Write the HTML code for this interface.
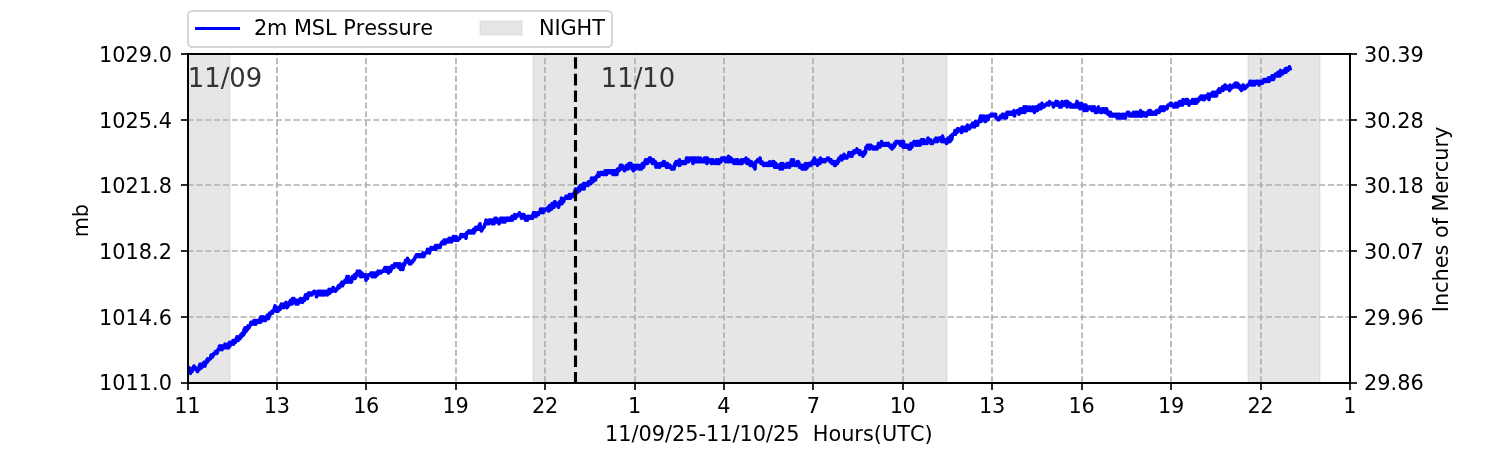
<!DOCTYPE html>
<html><head><meta charset="utf-8"><title>2m MSL Pressure</title>
<style>html,body{margin:0;padding:0;background:#fff;width:1500px;height:450px;overflow:hidden}svg{display:block;will-change:transform;font-kerning:none}</style>
</head><body>
<svg width="1500" height="450" viewBox="0 0 1500 450">
<rect width="1500" height="450" fill="#fff"/>
<clipPath id="c"><rect x="187.5" y="54.0" width="1162.5" height="328.5"/></clipPath>
<g clip-path="url(#c)">
<rect x="183" y="54" width="47" height="329" fill="#808080" fill-opacity="0.2" stroke="#808080" stroke-opacity="0.2" stroke-width="1"/>
<rect x="533" y="54" width="414" height="329" fill="#808080" fill-opacity="0.2" stroke="#808080" stroke-opacity="0.2" stroke-width="1"/>
<rect x="1248" y="54" width="72" height="329" fill="#808080" fill-opacity="0.2" stroke="#808080" stroke-opacity="0.2" stroke-width="1"/>
</g>
<g stroke="#b0b0b0" stroke-width="1.67" stroke-dasharray="6.17,2.67" fill="none">
<path d="M188 382.5V54.0"/>
<path d="M277 382.5V54.0"/>
<path d="M366 382.5V54.0"/>
<path d="M456 382.5V54.0"/>
<path d="M545 382.5V54.0"/>
<path d="M635 382.5V54.0"/>
<path d="M724 382.5V54.0"/>
<path d="M813 382.5V54.0"/>
<path d="M903 382.5V54.0"/>
<path d="M992 382.5V54.0"/>
<path d="M1082 382.5V54.0"/>
<path d="M1171 382.5V54.0"/>
<path d="M1261 382.5V54.0"/>
<path d="M1350 382.5V54.0"/>
<path d="M187.5 383H1350.0"/>
<path d="M187.5 317H1350.0"/>
<path d="M187.5 251H1350.0"/>
<path d="M187.5 185H1350.0"/>
<path d="M187.5 120H1350.0"/>
<path d="M187.5 54H1350.0"/>
</g>
<g font-family="DejaVu Sans, sans-serif" font-size="27.08" fill="#333333">
<text transform="translate(187.75 87) scale(0.955 1)">11/09</text>
<text transform="translate(600.75 87) scale(0.955 1)">11/10</text>
</g>
<path d="M188 369.73 188.5 371.55 189 371.55 189.5 367.9 190 369.73 190.5 373.38 191 369.73 191.5 371.55 192 371.55 192.5 369.73 193 367.9 193.5 367.9 194 366.07 194.5 367.9 195 367.9 195.5 367.9 196 369.73 196.5 369.73 197 369.73 197.5 371.55 198 367.9 198.5 367.9 199 369.73 199.5 366.07 200 364.25 200.5 366.07 201 364.25 201.5 367.9 202 366.07 202.5 366.07 203 366.07 203.5 364.25 204 362.43 204.5 364.25 205 366.07 205.5 362.43 206 362.43 206.5 360.6 207 362.43 207.5 358.77 208 358.77 208.5 360.6 209 358.77 209.5 358.77 210 358.77 210.5 358.77 211 355.12 211.5 356.95 212 355.12 212.5 356.95 213 355.12 213.5 355.12 214 353.3 214.5 353.3 215 353.3 215.5 351.48 216 353.3 216.5 351.48 217 353.3 217.5 351.48 218 349.65 218.5 349.65 219 349.65 219.5 346 220 347.82 220.5 346 221 347.82 221.5 346 222 349.65 222.5 346 223 347.82 223.5 346 224 347.82 224.5 346 225 344.18 225.5 347.82 226 347.82 226.5 347.82 227 346 227.5 344.18 228 344.18 228.5 347.82 229 346 229.5 342.35 230 346 230.5 344.18 231 344.18 231.5 342.35 232 342.35 232.5 342.35 233 340.52 233.5 344.18 234 342.35 234.5 342.35 235 340.52 235.5 342.35 236 338.7 236.5 338.7 237 336.88 237.5 336.88 238 340.52 238.5 338.7 239 336.88 239.5 336.88 240 338.7 240.5 335.05 241 336.88 241.5 336.88 242 333.23 242.5 333.23 243 335.05 243.5 335.05 244 329.57 244.5 333.23 245 327.75 245.5 331.4 246 331.4 246.5 327.75 247 329.57 247.5 329.57 248 325.93 248.5 327.75 249 327.75 249.5 325.93 250 325.93 250.5 324.1 251 322.27 251.5 322.27 252 322.27 252.5 322.27 253 324.1 253.5 322.27 254 320.45 254.5 320.45 255 324.1 255.5 320.45 256 324.1 256.5 320.45 257 320.45 257.5 322.27 258 322.27 258.5 320.45 259 320.45 259.5 322.27 260 318.62 260.5 322.27 261 316.8 261.5 318.62 262 318.62 262.5 320.45 263 316.8 263.5 320.45 264 318.62 264.5 318.62 265 318.62 265.5 320.45 266 316.8 266.5 316.8 267 316.8 267.5 314.98 268 314.98 268.5 318.62 269 316.8 269.5 313.15 270 314.98 270.5 313.15 271 313.15 271.5 313.15 272 311.32 272.5 313.15 273 311.32 273.5 311.32 274 309.5 274.5 307.68 275 305.85 275.5 307.68 276 309.5 276.5 311.32 277 309.5 277.5 307.68 278 311.32 278.5 309.5 279 309.5 279.5 307.68 280 309.5 280.5 305.85 281 305.85 281.5 304.02 282 305.85 282.5 305.85 283 305.85 283.5 307.68 284 304.02 284.5 305.85 285 304.02 285.5 305.85 286 302.2 286.5 304.02 287 307.68 287.5 304.02 288 305.85 288.5 305.85 289 304.02 289.5 302.2 290 304.02 290.5 300.38 291 304.02 291.5 304.02 292 304.02 292.5 298.55 293 300.38 293.5 300.38 294 298.55 294.5 302.2 295 302.2 295.5 300.38 296 304.02 296.5 304.02 297 300.38 297.5 304.02 298 304.02 298.5 300.38 299 302.2 299.5 302.2 300 300.38 300.5 298.55 301 300.38 301.5 300.38 302 302.2 302.5 302.2 303 298.55 303.5 300.38 304 300.38 304.5 300.38 305 296.73 305.5 294.9 306 298.55 306.5 294.9 307 296.73 307.5 298.55 308 294.9 308.5 293.07 309 294.9 309.5 294.9 310 293.07 310.5 294.9 311 293.07 311.5 294.9 312 294.9 312.5 293.07 313 293.07 313.5 293.07 314 291.25 314.5 291.25 315 293.07 315.5 293.07 316 293.07 316.5 296.73 317 294.9 317.5 293.07 318 291.25 318.5 294.9 319 291.25 319.5 291.25 320 291.25 320.5 291.25 321 294.9 321.5 291.25 322 293.07 322.5 294.9 323 293.07 323.5 291.25 324 293.07 324.5 294.9 325 293.07 325.5 293.07 326 291.25 326.5 293.07 327 294.9 327.5 294.9 328 293.07 328.5 291.25 329 289.43 329.5 291.25 330 293.07 330.5 289.43 331 289.43 331.5 289.43 332 291.25 332.5 291.25 333 287.6 333.5 287.6 334 289.43 334.5 289.43 335 289.43 335.5 291.25 336 289.43 336.5 289.43 337 289.43 337.5 287.6 338 287.6 338.5 285.77 339 287.6 339.5 287.6 340 285.77 340.5 283.95 341 283.95 341.5 283.95 342 282.12 342.5 285.77 343 283.95 343.5 283.95 344 282.12 344.5 282.12 345 280.3 345.5 282.12 346 282.12 346.5 278.48 347 276.65 347.5 280.3 348 282.12 348.5 276.65 349 280.3 349.5 280.3 350 282.12 350.5 278.48 351 278.48 351.5 282.12 352 278.48 352.5 276.65 353 278.48 353.5 278.48 354 278.48 354.5 274.82 355 278.48 355.5 274.82 356 276.65 356.5 273 357 273 357.5 271.18 358 273 358.5 273 359 274.82 359.5 273 360 271.18 360.5 276.65 361 276.65 361.5 276.65 362 273 362.5 274.82 363 274.82 363.5 274.82 364 274.82 364.5 276.65 365 274.82 365.5 276.65 366 280.3 366.5 278.48 367 276.65 367.5 278.48 368 274.82 368.5 274.82 369 274.82 369.5 274.82 370 274.82 370.5 274.82 371 273 371.5 274.82 372 276.65 372.5 273 373 273 373.5 273 374 276.65 374.5 276.65 375 273 375.5 276.65 376 273 376.5 274.82 377 273 377.5 274.82 378 271.18 378.5 273 379 273 379.5 271.18 380 271.18 380.5 271.18 381 273 381.5 271.18 382 271.18 382.5 271.18 383 271.18 383.5 271.18 384 269.35 384.5 269.35 385 267.52 385.5 267.52 386 271.18 386.5 267.52 387 271.18 387.5 271.18 388 269.35 388.5 273 389 267.52 389.5 269.35 390 267.52 390.5 271.18 391 269.35 391.5 269.35 392 265.7 392.5 267.52 393 265.7 393.5 265.7 394 267.52 394.5 263.88 395 263.88 395.5 265.7 396 265.7 396.5 263.88 397 265.7 397.5 263.88 398 265.7 398.5 267.52 399 263.88 399.5 267.52 400 263.88 400.5 269.35 401 267.52 401.5 267.52 402 269.35 402.5 269.35 403 269.35 403.5 263.88 404 265.7 404.5 263.88 405 263.88 405.5 260.23 406 262.05 406.5 262.05 407 262.05 407.5 258.4 408 262.05 408.5 260.23 409 260.23 409.5 263.88 410 262.05 410.5 262.05 411 263.88 411.5 262.05 412 262.05 412.5 262.05 413 260.23 413.5 260.23 414 260.23 414.5 258.4 415 258.4 415.5 256.57 416 256.57 416.5 254.75 417 256.57 417.5 254.75 418 254.75 418.5 256.57 419 256.57 419.5 254.75 420 256.57 420.5 254.75 421 256.57 421.5 256.57 422 254.75 422.5 256.57 423 252.93 423.5 254.75 424 256.57 424.5 254.75 425 252.93 425.5 252.93 426 252.93 426.5 252.93 427 251.1 427.5 249.28 428 251.1 428.5 251.1 429 251.1 429.5 252.93 430 249.28 430.5 249.28 431 247.45 431.5 247.45 432 249.28 432.5 249.28 433 247.45 433.5 247.45 434 249.28 434.5 247.45 435 249.28 435.5 245.62 436 249.28 436.5 245.62 437 245.62 437.5 245.62 438 245.62 438.5 247.45 439 247.45 439.5 245.62 440 247.45 440.5 245.62 441 243.8 441.5 243.8 442 241.97 442.5 241.97 443 243.8 443.5 243.8 444 240.15 444.5 243.8 445 243.8 445.5 241.97 446 240.15 446.5 241.97 447 240.15 447.5 241.97 448 240.15 448.5 241.97 449 238.33 449.5 240.15 450 240.15 450.5 240.15 451 238.33 451.5 241.97 452 238.33 452.5 238.33 453 238.33 453.5 236.5 454 238.33 454.5 240.15 455 240.15 455.5 238.33 456 236.5 456.5 238.33 457 240.15 457.5 238.33 458 240.15 458.5 238.33 459 238.33 459.5 238.33 460 238.33 460.5 236.5 461 234.68 461.5 236.5 462 236.5 462.5 234.68 463 236.5 463.5 236.5 464 234.68 464.5 234.68 465 234.68 465.5 234.68 466 238.33 466.5 232.85 467 232.85 467.5 232.85 468 232.85 468.5 231.03 469 232.85 469.5 231.03 470 231.03 470.5 232.85 471 231.03 471.5 232.85 472 231.03 472.5 231.03 473 232.85 473.5 229.2 474 232.85 474.5 231.03 475 231.03 475.5 227.38 476 229.2 476.5 229.2 477 229.2 477.5 227.38 478 229.2 478.5 229.2 479 225.55 479.5 225.55 480 223.72 480.5 229.2 481 229.2 481.5 231.03 482 229.2 482.5 229.2 483 227.38 483.5 227.38 484 227.38 484.5 225.55 485 223.72 485.5 223.72 486 220.08 486.5 223.72 487 223.72 487.5 221.9 488 223.72 488.5 223.72 489 220.08 489.5 220.08 490 220.08 490.5 220.08 491 220.08 491.5 221.9 492 223.72 492.5 220.08 493 223.72 493.5 223.72 494 223.72 494.5 220.08 495 218.25 495.5 221.9 496 218.25 496.5 218.25 497 221.9 497.5 221.9 498 220.08 498.5 221.9 499 223.72 499.5 220.08 500 221.9 500.5 218.25 501 221.9 501.5 218.25 502 220.08 502.5 218.25 503 220.08 503.5 221.9 504 218.25 504.5 218.25 505 221.9 505.5 220.08 506 218.25 506.5 220.08 507 218.25 507.5 220.08 508 218.25 508.5 220.08 509 218.25 509.5 220.08 510 218.25 510.5 220.08 511 220.08 511.5 218.25 512 216.43 512.5 220.08 513 218.25 513.5 216.43 514 218.25 514.5 214.6 515 216.43 515.5 218.25 516 216.43 516.5 216.43 517 216.43 517.5 214.6 518 214.6 518.5 214.6 519 214.6 519.5 212.78 520 214.6 520.5 214.6 521 216.43 521.5 218.25 522 214.6 522.5 216.43 523 216.43 523.5 214.6 524 214.6 524.5 218.25 525 218.25 525.5 220.08 526 216.43 526.5 218.25 527 220.08 527.5 220.08 528 216.43 528.5 218.25 529 216.43 529.5 218.25 530 216.43 530.5 216.43 531 218.25 531.5 216.43 532 216.43 532.5 218.25 533 214.6 533.5 212.78 534 214.6 534.5 212.78 535 212.78 535.5 214.6 536 216.43 536.5 214.6 537 214.6 537.5 212.78 538 212.78 538.5 214.6 539 212.78 539.5 212.78 540 212.78 540.5 209.12 541 210.95 541.5 210.95 542 209.12 542.5 210.95 543 212.78 543.5 209.12 544 210.95 544.5 210.95 545 209.12 545.5 209.12 546 209.12 546.5 209.12 547 209.12 547.5 209.12 548 207.3 548.5 210.95 549 210.95 549.5 205.47 550 207.3 550.5 205.47 551 209.12 551.5 209.12 552 203.65 552.5 205.47 553 203.65 553.5 205.47 554 207.3 554.5 201.83 555 201.83 555.5 203.65 556 203.65 556.5 205.47 557 205.47 557.5 203.65 558 203.65 558.5 207.3 559 205.47 559.5 201.83 560 203.65 560.5 201.83 561 203.65 561.5 198.18 562 203.65 562.5 200 563 200 563.5 201.83 564 200 564.5 198.18 565 198.18 565.5 198.18 566 196.35 566.5 196.35 567 196.35 567.5 198.18 568 196.35 568.5 198.18 569 196.35 569.5 194.53 570 196.35 570.5 198.18 571 194.53 571.5 194.53 572 196.35 572.5 194.53 573 196.35 573.5 196.35 574 192.7 574.5 194.53 575 190.88 575.5 189.05 576 190.88 576.5 190.88 577 192.7 577.5 189.05 578 190.88 578.5 189.05 579 187.22 579.5 190.88 580 189.05 580.5 185.4 581 189.05 581.5 185.4 582 185.4 582.5 185.4 583 189.05 583.5 183.58 584 189.05 584.5 187.22 585 183.58 585.5 185.4 586 183.58 586.5 183.58 587 183.58 587.5 183.58 588 185.4 588.5 181.75 589 183.58 589.5 181.75 590 183.58 590.5 183.58 591 183.58 591.5 178.1 592 179.93 592.5 181.75 593 181.75 593.5 178.1 594 179.93 594.5 178.1 595 178.1 595.5 179.93 596 178.1 596.5 176.28 597 176.28 597.5 176.28 598 174.45 598.5 172.62 599 176.28 599.5 174.45 600 174.45 600.5 174.45 601 172.62 601.5 172.62 602 172.62 602.5 172.62 603 174.45 603.5 172.62 604 172.62 604.5 174.45 605 170.8 605.5 170.8 606 174.45 606.5 174.45 607 170.8 607.5 172.62 608 170.8 608.5 172.62 609 172.62 609.5 170.8 610 172.62 610.5 172.62 611 172.62 611.5 170.8 612 172.62 612.5 170.8 613 174.45 613.5 170.8 614 170.8 614.5 170.8 615 174.45 615.5 170.8 616 172.62 616.5 174.45 617 174.45 617.5 168.97 618 170.8 618.5 170.8 619 170.8 619.5 168.97 620 167.15 620.5 165.33 621 165.33 621.5 168.97 622 165.33 622.5 167.15 623 167.15 623.5 167.15 624 167.15 624.5 170.8 625 168.97 625.5 167.15 626 168.97 626.5 165.33 627 165.33 627.5 168.97 628 168.97 628.5 167.15 629 163.5 629.5 165.33 630 163.5 630.5 165.33 631 163.5 631.5 165.33 632 168.97 632.5 165.33 633 167.15 633.5 170.8 634 167.15 634.5 167.15 635 165.33 635.5 168.97 636 167.15 636.5 167.15 637 167.15 637.5 165.33 638 165.33 638.5 167.15 639 168.97 639.5 168.97 640 168.97 640.5 168.97 641 165.33 641.5 168.97 642 165.33 642.5 163.5 643 167.15 643.5 167.15 644 165.33 644.5 163.5 645 161.68 645.5 159.85 646 163.5 646.5 163.5 647 159.85 647.5 163.5 648 159.85 648.5 159.85 649 159.85 649.5 158.03 650 159.85 650.5 158.03 651 161.68 651.5 159.85 652 161.68 652.5 163.5 653 159.85 653.5 159.85 654 163.5 654.5 161.68 655 161.68 655.5 161.68 656 167.15 656.5 165.33 657 163.5 657.5 165.33 658 165.33 658.5 165.33 659 167.15 659.5 167.15 660 163.5 660.5 163.5 661 163.5 661.5 165.33 662 163.5 662.5 165.33 663 163.5 663.5 161.68 664 165.33 664.5 161.68 665 165.33 665.5 163.5 666 165.33 666.5 167.15 667 165.33 667.5 163.5 668 165.33 668.5 167.15 669 165.33 669.5 165.33 670 165.33 670.5 167.15 671 167.15 671.5 168.97 672 167.15 672.5 168.97 673 167.15 673.5 168.97 674 168.97 674.5 165.33 675 163.5 675.5 165.33 676 161.68 676.5 163.5 677 161.68 677.5 163.5 678 161.68 678.5 161.68 679 165.33 679.5 159.85 680 165.33 680.5 163.5 681 163.5 681.5 163.5 682 161.68 682.5 161.68 683 163.5 683.5 161.68 684 163.5 684.5 163.5 685 163.5 685.5 163.5 686 161.68 686.5 158.03 687 161.68 687.5 158.03 688 161.68 688.5 161.68 689 159.85 689.5 159.85 690 158.03 690.5 159.85 691 159.85 691.5 158.03 692 158.03 692.5 161.68 693 163.5 693.5 159.85 694 158.03 694.5 159.85 695 158.03 695.5 159.85 696 161.68 696.5 159.85 697 159.85 697.5 158.03 698 161.68 698.5 158.03 699 159.85 699.5 159.85 700 161.68 700.5 158.03 701 161.68 701.5 159.85 702 161.68 702.5 159.85 703 159.85 703.5 161.68 704 159.85 704.5 158.03 705 158.03 705.5 161.68 706 158.03 706.5 159.85 707 163.5 707.5 158.03 708 159.85 708.5 159.85 709 159.85 709.5 161.68 710 161.68 710.5 161.68 711 159.85 711.5 163.5 712 163.5 712.5 161.68 713 159.85 713.5 161.68 714 161.68 714.5 161.68 715 163.5 715.5 161.68 716 161.68 716.5 159.85 717 161.68 717.5 163.5 718 163.5 718.5 159.85 719 163.5 719.5 161.68 720 159.85 720.5 159.85 721 161.68 721.5 158.03 722 159.85 722.5 159.85 723 158.03 723.5 159.85 724 158.03 724.5 158.03 725 158.03 725.5 161.68 726 158.03 726.5 159.85 727 159.85 727.5 161.68 728 161.68 728.5 156.2 729 161.68 729.5 159.85 730 158.03 730.5 159.85 731 158.03 731.5 161.68 732 159.85 732.5 159.85 733 159.85 733.5 161.68 734 163.5 734.5 163.5 735 161.68 735.5 161.68 736 159.85 736.5 161.68 737 163.5 737.5 159.85 738 163.5 738.5 163.5 739 161.68 739.5 163.5 740 161.68 740.5 163.5 741 159.85 741.5 159.85 742 163.5 742.5 161.68 743 159.85 743.5 161.68 744 159.85 744.5 161.68 745 161.68 745.5 161.68 746 158.03 746.5 161.68 747 163.5 747.5 159.85 748 163.5 748.5 159.85 749 163.5 749.5 163.5 750 165.33 750.5 165.33 751 165.33 751.5 161.68 752 165.33 752.5 163.5 753 165.33 753.5 165.33 754 167.15 754.5 167.15 755 168.97 755.5 161.68 756 161.68 756.5 161.68 757 161.68 757.5 159.85 758 159.85 758.5 161.68 759 161.68 759.5 159.85 760 158.03 760.5 161.68 761 163.5 761.5 163.5 762 161.68 762.5 163.5 763 163.5 763.5 165.33 764 163.5 764.5 165.33 765 163.5 765.5 163.5 766 163.5 766.5 165.33 767 163.5 767.5 163.5 768 165.33 768.5 163.5 769 165.33 769.5 161.68 770 161.68 770.5 165.33 771 163.5 771.5 165.33 772 163.5 772.5 163.5 773 161.68 773.5 165.33 774 161.68 774.5 167.15 775 167.15 775.5 163.5 776 163.5 776.5 167.15 777 165.33 777.5 165.33 778 167.15 778.5 165.33 779 165.33 779.5 167.15 780 168.97 780.5 167.15 781 163.5 781.5 165.33 782 165.33 782.5 168.97 783 163.5 783.5 165.33 784 167.15 784.5 165.33 785 165.33 785.5 165.33 786 165.33 786.5 167.15 787 163.5 787.5 163.5 788 163.5 788.5 165.33 789 163.5 789.5 167.15 790 165.33 790.5 165.33 791 161.68 791.5 159.85 792 161.68 792.5 165.33 793 163.5 793.5 159.85 794 163.5 794.5 163.5 795 165.33 795.5 163.5 796 165.33 796.5 165.33 797 163.5 797.5 161.68 798 165.33 798.5 161.68 799 163.5 799.5 167.15 800 165.33 800.5 165.33 801 167.15 801.5 165.33 802 168.97 802.5 168.97 803 165.33 803.5 165.33 804 165.33 804.5 168.97 805 165.33 805.5 163.5 806 168.97 806.5 167.15 807 167.15 807.5 167.15 808 163.5 808.5 163.5 809 165.33 809.5 163.5 810 165.33 810.5 165.33 811 165.33 811.5 163.5 812 161.68 812.5 161.68 813 163.5 813.5 159.85 814 161.68 814.5 158.03 815 163.5 815.5 159.85 816 161.68 816.5 163.5 817 163.5 817.5 165.33 818 163.5 818.5 161.68 819 159.85 819.5 163.5 820 163.5 820.5 158.03 821 161.68 821.5 159.85 822 159.85 822.5 159.85 823 159.85 823.5 161.68 824 161.68 824.5 159.85 825 161.68 825.5 159.85 826 159.85 826.5 159.85 827 159.85 827.5 158.03 828 158.03 828.5 158.03 829 159.85 829.5 159.85 830 161.68 830.5 161.68 831 159.85 831.5 161.68 832 163.5 832.5 161.68 833 163.5 833.5 161.68 834 163.5 834.5 165.33 835 161.68 835.5 165.33 836 163.5 836.5 163.5 837 161.68 837.5 163.5 838 159.85 838.5 161.68 839 158.03 839.5 159.85 840 159.85 840.5 158.03 841 156.2 841.5 159.85 842 159.85 842.5 158.03 843 156.2 843.5 158.03 844 154.38 844.5 158.03 845 156.2 845.5 158.03 846 156.2 846.5 156.2 847 158.03 847.5 156.2 848 156.2 848.5 154.38 849 152.55 849.5 154.38 850 154.38 850.5 156.2 851 156.2 851.5 152.55 852 156.2 852.5 152.55 853 154.38 853.5 152.55 854 150.72 854.5 150.72 855 150.72 855.5 152.55 856 150.72 856.5 150.72 857 148.9 857.5 150.72 858 150.72 858.5 152.55 859 152.55 859.5 154.38 860 150.72 860.5 154.38 861 152.55 861.5 154.38 862 152.55 862.5 154.38 863 156.2 863.5 154.38 864 152.55 864.5 154.38 865 150.72 865.5 152.55 866 147.08 866.5 147.08 867 147.08 867.5 145.25 868 145.25 868.5 145.25 869 147.08 869.5 148.9 870 145.25 870.5 147.08 871 145.25 871.5 147.08 872 147.08 872.5 147.08 873 148.9 873.5 148.9 874 147.08 874.5 147.08 875 148.9 875.5 148.9 876 147.08 876.5 148.9 877 148.9 877.5 147.08 878 147.08 878.5 143.43 879 145.25 879.5 145.25 880 147.08 880.5 143.43 881 143.43 881.5 141.6 882 143.43 882.5 143.43 883 145.25 883.5 143.43 884 145.25 884.5 145.25 885 143.43 885.5 143.43 886 143.43 886.5 145.25 887 143.43 887.5 143.43 888 145.25 888.5 143.43 889 145.25 889.5 145.25 890 147.08 890.5 147.08 891 147.08 891.5 145.25 892 148.9 892.5 147.08 893 147.08 893.5 147.08 894 147.08 894.5 143.43 895 145.25 895.5 143.43 896 141.6 896.5 141.6 897 141.6 897.5 141.6 898 141.6 898.5 141.6 899 143.43 899.5 143.43 900 143.43 900.5 145.25 901 141.6 901.5 143.43 902 141.6 902.5 143.43 903 147.08 903.5 141.6 904 147.08 904.5 147.08 905 145.25 905.5 147.08 906 145.25 906.5 145.25 907 147.08 907.5 145.25 908 145.25 908.5 145.25 909 148.9 909.5 145.25 910 145.25 910.5 148.9 911 143.43 911.5 147.08 912 147.08 912.5 145.25 913 143.43 913.5 143.43 914 141.6 914.5 141.6 915 143.43 915.5 143.43 916 145.25 916.5 141.6 917 145.25 917.5 143.43 918 141.6 918.5 143.43 919 141.6 919.5 141.6 920 145.25 920.5 141.6 921 141.6 921.5 139.78 922 143.43 922.5 141.6 923 139.78 923.5 143.43 924 139.78 924.5 143.43 925 141.6 925.5 141.6 926 141.6 926.5 141.6 927 143.43 927.5 141.6 928 137.95 928.5 141.6 929 139.78 929.5 139.78 930 139.78 930.5 139.78 931 143.43 931.5 143.43 932 143.43 932.5 143.43 933 141.6 933.5 141.6 934 141.6 934.5 139.78 935 139.78 935.5 141.6 936 137.95 936.5 139.78 937 139.78 937.5 141.6 938 139.78 938.5 139.78 939 137.95 939.5 137.95 940 137.95 940.5 137.95 941 139.78 941.5 141.6 942 139.78 942.5 136.12 943 137.95 943.5 141.6 944 141.6 944.5 141.6 945 139.78 945.5 139.78 946 141.6 946.5 143.43 947 139.78 947.5 139.78 948 137.95 948.5 137.95 949 141.6 949.5 139.78 950 141.6 950.5 136.12 951 137.95 951.5 139.78 952 137.95 952.5 134.3 953 134.3 953.5 134.3 954 134.3 954.5 132.47 955 130.65 955.5 134.3 956 132.47 956.5 132.47 957 132.47 957.5 128.83 958 130.65 958.5 128.83 959 130.65 959.5 130.65 960 130.65 960.5 130.65 961 130.65 961.5 132.47 962 127 962.5 127 963 130.65 963.5 130.65 964 128.83 964.5 128.83 965 130.65 965.5 127 966 130.65 966.5 130.65 967 127 967.5 125.18 968 128.83 968.5 127 969 127 969.5 128.83 970 127 970.5 127 971 125.18 971.5 127 972 125.18 972.5 123.35 973 125.18 973.5 123.35 974 125.18 974.5 127 975 123.35 975.5 121.53 976 123.35 976.5 123.35 977 125.18 977.5 125.18 978 123.35 978.5 121.53 979 121.53 979.5 119.7 980 119.7 980.5 116.05 981 121.53 981.5 117.88 982 116.05 982.5 117.88 983 117.88 983.5 119.7 984 116.05 984.5 117.88 985 121.53 985.5 121.53 986 119.7 986.5 119.7 987 116.05 987.5 119.7 988 119.7 988.5 117.88 989 116.05 989.5 116.05 990 116.05 990.5 116.05 991 114.23 991.5 116.05 992 116.05 992.5 114.23 993 114.23 993.5 114.23 994 114.23 994.5 116.05 995 116.05 995.5 114.23 996 117.88 996.5 117.88 997 117.88 997.5 117.88 998 119.7 998.5 119.7 999 119.7 999.5 117.88 1000 117.88 1000.5 116.05 1001 117.88 1001.5 116.05 1002 116.05 1002.5 114.23 1003 116.05 1003.5 114.23 1004 117.88 1004.5 117.88 1005 117.88 1005.5 114.23 1006 116.05 1006.5 117.88 1007 112.4 1007.5 114.23 1008 112.4 1008.5 114.23 1009 112.4 1009.5 114.23 1010 112.4 1010.5 114.23 1011 112.4 1011.5 114.23 1012 112.4 1012.5 114.23 1013 114.23 1013.5 114.23 1014 110.57 1014.5 116.05 1015 112.4 1015.5 112.4 1016 112.4 1016.5 112.4 1017 112.4 1017.5 110.57 1018 112.4 1018.5 112.4 1019 114.23 1019.5 112.4 1020 108.75 1020.5 110.57 1021 108.75 1021.5 108.75 1022 112.4 1022.5 108.75 1023 110.57 1023.5 108.75 1024 106.93 1024.5 112.4 1025 112.4 1025.5 106.93 1026 108.75 1026.5 108.75 1027 106.93 1027.5 108.75 1028 110.57 1028.5 110.57 1029 108.75 1029.5 106.93 1030 106.93 1030.5 108.75 1031 110.57 1031.5 108.75 1032 108.75 1032.5 110.57 1033 106.93 1033.5 108.75 1034 108.75 1034.5 112.4 1035 106.93 1035.5 106.93 1036 108.75 1036.5 108.75 1037 106.93 1037.5 110.57 1038 106.93 1038.5 108.75 1039 105.1 1039.5 108.75 1040 105.1 1040.5 108.75 1041 108.75 1041.5 105.1 1042 103.28 1042.5 106.93 1043 105.1 1043.5 105.1 1044 106.93 1044.5 105.1 1045 105.1 1045.5 105.1 1046 105.1 1046.5 105.1 1047 103.28 1047.5 103.28 1048 103.28 1048.5 103.28 1049 105.1 1049.5 101.45 1050 103.28 1050.5 103.28 1051 103.28 1051.5 103.28 1052 103.28 1052.5 103.28 1053 105.1 1053.5 106.93 1054 105.1 1054.5 103.28 1055 103.28 1055.5 103.28 1056 101.45 1056.5 105.1 1057 101.45 1057.5 101.45 1058 105.1 1058.5 105.1 1059 103.28 1059.5 106.93 1060 103.28 1060.5 105.1 1061 103.28 1061.5 106.93 1062 101.45 1062.5 103.28 1063 105.1 1063.5 105.1 1064 105.1 1064.5 105.1 1065 101.45 1065.5 101.45 1066 103.28 1066.5 101.45 1067 106.93 1067.5 101.45 1068 103.28 1068.5 103.28 1069 103.28 1069.5 105.1 1070 103.28 1070.5 106.93 1071 106.93 1071.5 105.1 1072 106.93 1072.5 106.93 1073 105.1 1073.5 106.93 1074 106.93 1074.5 105.1 1075 105.1 1075.5 106.93 1076 106.93 1076.5 103.28 1077 101.45 1077.5 106.93 1078 105.1 1078.5 103.28 1079 105.1 1079.5 105.1 1080 108.75 1080.5 105.1 1081 105.1 1081.5 103.28 1082 105.1 1082.5 108.75 1083 105.1 1083.5 106.93 1084 110.57 1084.5 105.1 1085 106.93 1085.5 108.75 1086 105.1 1086.5 110.57 1087 110.57 1087.5 106.93 1088 108.75 1088.5 108.75 1089 108.75 1089.5 106.93 1090 108.75 1090.5 106.93 1091 106.93 1091.5 106.93 1092 110.57 1092.5 110.57 1093 106.93 1093.5 108.75 1094 108.75 1094.5 106.93 1095 108.75 1095.5 112.4 1096 108.75 1096.5 110.57 1097 112.4 1097.5 108.75 1098 110.57 1098.5 106.93 1099 110.57 1099.5 110.57 1100 110.57 1100.5 112.4 1101 110.57 1101.5 112.4 1102 108.75 1102.5 110.57 1103 108.75 1103.5 108.75 1104 110.57 1104.5 112.4 1105 112.4 1105.5 108.75 1106 112.4 1106.5 108.75 1107 110.57 1107.5 112.4 1108 114.23 1108.5 114.23 1109 112.4 1109.5 112.4 1110 116.05 1110.5 112.4 1111 116.05 1111.5 116.05 1112 114.23 1112.5 116.05 1113 114.23 1113.5 116.05 1114 116.05 1114.5 114.23 1115 116.05 1115.5 116.05 1116 116.05 1116.5 114.23 1117 117.88 1117.5 117.88 1118 114.23 1118.5 117.88 1119 116.05 1119.5 114.23 1120 117.88 1120.5 116.05 1121 117.88 1121.5 117.88 1122 116.05 1122.5 114.23 1123 117.88 1123.5 117.88 1124 117.88 1124.5 114.23 1125 117.88 1125.5 117.88 1126 114.23 1126.5 114.23 1127 114.23 1127.5 112.4 1128 114.23 1128.5 114.23 1129 112.4 1129.5 116.05 1130 114.23 1130.5 114.23 1131 114.23 1131.5 114.23 1132 116.05 1132.5 114.23 1133 114.23 1133.5 112.4 1134 114.23 1134.5 116.05 1135 112.4 1135.5 114.23 1136 116.05 1136.5 112.4 1137 116.05 1137.5 114.23 1138 112.4 1138.5 116.05 1139 116.05 1139.5 114.23 1140 116.05 1140.5 110.57 1141 114.23 1141.5 114.23 1142 116.05 1142.5 114.23 1143 114.23 1143.5 112.4 1144 114.23 1144.5 114.23 1145 116.05 1145.5 116.05 1146 114.23 1146.5 116.05 1147 112.4 1147.5 114.23 1148 112.4 1148.5 114.23 1149 110.57 1149.5 112.4 1150 114.23 1150.5 110.57 1151 112.4 1151.5 112.4 1152 114.23 1152.5 112.4 1153 114.23 1153.5 112.4 1154 112.4 1154.5 112.4 1155 112.4 1155.5 114.23 1156 114.23 1156.5 110.57 1157 112.4 1157.5 112.4 1158 110.57 1158.5 110.57 1159 112.4 1159.5 108.75 1160 110.57 1160.5 106.93 1161 106.93 1161.5 110.57 1162 106.93 1162.5 108.75 1163 108.75 1163.5 106.93 1164 110.57 1164.5 108.75 1165 106.93 1165.5 106.93 1166 108.75 1166.5 108.75 1167 108.75 1167.5 106.93 1168 105.1 1168.5 105.1 1169 105.1 1169.5 105.1 1170 105.1 1170.5 103.28 1171 105.1 1171.5 103.28 1172 105.1 1172.5 105.1 1173 105.1 1173.5 106.93 1174 106.93 1174.5 105.1 1175 106.93 1175.5 103.28 1176 105.1 1176.5 103.28 1177 103.28 1177.5 106.93 1178 103.28 1178.5 103.28 1179 105.1 1179.5 101.45 1180 105.1 1180.5 101.45 1181 101.45 1181.5 101.45 1182 101.45 1182.5 105.1 1183 99.62 1183.5 101.45 1184 101.45 1184.5 103.28 1185 103.28 1185.5 101.45 1186 99.62 1186.5 103.28 1187 99.62 1187.5 99.62 1188 101.45 1188.5 101.45 1189 105.1 1189.5 103.28 1190 101.45 1190.5 101.45 1191 103.28 1191.5 101.45 1192 101.45 1192.5 99.62 1193 99.62 1193.5 103.28 1194 103.28 1194.5 103.28 1195 99.62 1195.5 103.28 1196 99.62 1196.5 103.28 1197 99.62 1197.5 99.62 1198 101.45 1198.5 99.62 1199 99.62 1199.5 97.8 1200 99.62 1200.5 97.8 1201 95.98 1201.5 95.98 1202 97.8 1202.5 97.8 1203 99.62 1203.5 95.98 1204 95.98 1204.5 99.62 1205 95.98 1205.5 95.98 1206 95.98 1206.5 95.98 1207 95.98 1207.5 97.8 1208 94.15 1208.5 97.8 1209 99.62 1209.5 95.98 1210 95.98 1210.5 94.15 1211 94.15 1211.5 94.15 1212 95.98 1212.5 92.32 1213 95.98 1213.5 95.98 1214 92.32 1214.5 92.32 1215 95.98 1215.5 95.98 1216 92.32 1216.5 95.98 1217 92.32 1217.5 92.32 1218 90.5 1218.5 92.32 1219 88.68 1219.5 88.68 1220 92.32 1220.5 90.5 1221 90.5 1221.5 90.5 1222 90.5 1222.5 86.85 1223 90.5 1223.5 86.85 1224 86.85 1224.5 86.85 1225 85.03 1225.5 85.03 1226 88.68 1226.5 88.68 1227 86.85 1227.5 86.85 1228 86.85 1228.5 88.68 1229 88.68 1229.5 90.5 1230 85.03 1230.5 88.68 1231 88.68 1231.5 86.85 1232 86.85 1232.5 86.85 1233 86.85 1233.5 85.03 1234 86.85 1234.5 86.85 1235 83.2 1235.5 85.03 1236 83.2 1236.5 86.85 1237 86.85 1237.5 83.2 1238 86.85 1238.5 86.85 1239 85.03 1239.5 86.85 1240 88.68 1240.5 86.85 1241 88.68 1241.5 90.5 1242 88.68 1242.5 86.85 1243 85.03 1243.5 85.03 1244 88.68 1244.5 86.85 1245 88.68 1245.5 86.85 1246 86.85 1246.5 86.85 1247 86.85 1247.5 85.03 1248 85.03 1248.5 85.03 1249 85.03 1249.5 83.2 1250 81.38 1250.5 81.38 1251 81.38 1251.5 85.03 1252 85.03 1252.5 85.03 1253 83.2 1253.5 81.38 1254 83.2 1254.5 85.03 1255 83.2 1255.5 83.2 1256 81.38 1256.5 81.38 1257 83.2 1257.5 83.2 1258 81.38 1258.5 81.38 1259 85.03 1259.5 83.2 1260 83.2 1260.5 81.38 1261 83.2 1261.5 81.38 1262 81.38 1262.5 83.2 1263 81.38 1263.5 81.38 1264 79.55 1264.5 81.38 1265 79.55 1265.5 81.38 1266 81.38 1266.5 79.55 1267 81.38 1267.5 79.55 1268 79.55 1268.5 77.73 1269 81.38 1269.5 79.55 1270 77.73 1270.5 77.73 1271 77.73 1271.5 79.55 1272 75.9 1272.5 79.55 1273 75.9 1273.5 79.55 1274 77.73 1274.5 75.9 1275 75.9 1275.5 74.07 1276 74.07 1276.5 75.9 1277 75.9 1277.5 75.9 1278 72.25 1278.5 75.9 1279 72.25 1279.5 75.9 1280 75.9 1280.5 70.43 1281 74.07 1281.5 74.07 1282 74.07 1282.5 74.07 1283 72.25 1283.5 72.25 1284 70.43 1284.5 72.25 1285 72.25 1285.5 68.6 1286 72.25 1286.5 68.6 1287 68.6 1287.5 68.6 1288 70.43 1288.5 68.6 1289 68.6 1289.5 66.78 1290 68.6 1290.5 70.43" fill="none" stroke="#0000ff" stroke-width="3.6" stroke-linejoin="round" clip-path="url(#c)"/>
<path d="M575.5 382.5V54.0" stroke="#000" stroke-width="3.12" stroke-dasharray="11.56,5" stroke-dashoffset="1" fill="none" clip-path="url(#c)"/>
<g stroke="#000" stroke-width="2" fill="none" stroke-linecap="square">
<path d="M188 383V54"/><path d="M1350 383V54"/><path d="M188 383H1350"/><path d="M188 54H1350"/>
</g>
<g stroke="#000" stroke-width="1.67" fill="none">
<path d="M188 383v7"/>
<path d="M277 383v7"/>
<path d="M366 383v7"/>
<path d="M456 383v7"/>
<path d="M545 383v7"/>
<path d="M635 383v7"/>
<path d="M724 383v7"/>
<path d="M813 383v7"/>
<path d="M903 383v7"/>
<path d="M992 383v7"/>
<path d="M1082 383v7"/>
<path d="M1171 383v7"/>
<path d="M1261 383v7"/>
<path d="M1350 383v7"/>
<path d="M188 383h-7"/><path d="M1350 383h7"/>
<path d="M188 317h-7"/><path d="M1350 317h7"/>
<path d="M188 251h-7"/><path d="M1350 251h7"/>
<path d="M188 185h-7"/><path d="M1350 185h7"/>
<path d="M188 120h-7"/><path d="M1350 120h7"/>
<path d="M188 54h-7"/><path d="M1350 54h7"/>
</g>
<g font-family="DejaVu Sans, sans-serif" font-size="20.83" fill="#000">
<text x="187.25" y="412.66" text-anchor="middle" letter-spacing="-0.3">11</text>
<text x="276.67" y="412.66" text-anchor="middle" letter-spacing="-0.3">13</text>
<text x="366.1" y="412.66" text-anchor="middle" letter-spacing="-0.3">16</text>
<text x="455.52" y="412.66" text-anchor="middle" letter-spacing="-0.3">19</text>
<text x="544.94" y="412.66" text-anchor="middle" letter-spacing="-0.3">22</text>
<text x="634.37" y="412.66" text-anchor="middle" letter-spacing="-0.3">1</text>
<text x="723.79" y="412.66" text-anchor="middle" letter-spacing="-0.3">4</text>
<text x="813.21" y="412.66" text-anchor="middle" letter-spacing="-0.3">7</text>
<text x="902.63" y="412.66" text-anchor="middle" letter-spacing="-0.3">10</text>
<text x="992.06" y="412.66" text-anchor="middle" letter-spacing="-0.3">13</text>
<text x="1081.48" y="412.66" text-anchor="middle" letter-spacing="-0.3">16</text>
<text x="1170.9" y="412.66" text-anchor="middle" letter-spacing="-0.3">19</text>
<text x="1260.33" y="412.66" text-anchor="middle" letter-spacing="-0.3">22</text>
<text x="1349.75" y="412.66" text-anchor="middle" letter-spacing="-0.3">1</text>
<text x="171.92" y="390.42" text-anchor="end">1011.0</text>
<text x="171.92" y="324.72" text-anchor="end">1014.6</text>
<text x="171.92" y="259.02" text-anchor="end">1018.2</text>
<text x="171.92" y="193.32" text-anchor="end">1021.8</text>
<text x="171.92" y="127.62" text-anchor="end">1025.4</text>
<text x="171.92" y="61.92" text-anchor="end">1029.0</text>
<text x="1364.08" y="390.42">29.86</text>
<text x="1364.08" y="324.72">29.96</text>
<text x="1364.08" y="259.02">30.07</text>
<text x="1364.08" y="193.32">30.18</text>
<text x="1364.08" y="127.62">30.28</text>
<text x="1364.08" y="61.92">30.39</text>
<text x="768.75" y="440.66" text-anchor="middle">11/09/25-11/10/25&#160; Hours(UTC)</text>
<text x="87.7" y="220.75" text-anchor="middle" transform="rotate(-90 87.7 220.75)" letter-spacing="-0.3">mb</text>
<text x="1447.64" y="219.45" text-anchor="middle" transform="rotate(-90 1447.64 219.45)" letter-spacing="-0.025">Inches of Mercury</text>
</g>
<rect x="188" y="11" width="424" height="36" rx="4.17" fill="#fff" fill-opacity="0.8" stroke="#ccc" stroke-opacity="0.8" stroke-width="2"/>
<path d="M195 28.5H240" stroke="#0000ff" stroke-width="3.1" fill="none"/>
<text x="253.92" y="34.51" font-family="DejaVu Sans, sans-serif" font-size="20.83" letter-spacing="-0.05">2m MSL Pressure</text>
<rect x="480" y="21" width="42" height="14" fill="#808080" fill-opacity="0.2" stroke="#808080" stroke-opacity="0.2" stroke-width="1"/>
<text x="538.99" y="34.51" font-family="DejaVu Sans, sans-serif" font-size="20.83" letter-spacing="-0.075">NIGHT</text>
</svg>
</body></html>
